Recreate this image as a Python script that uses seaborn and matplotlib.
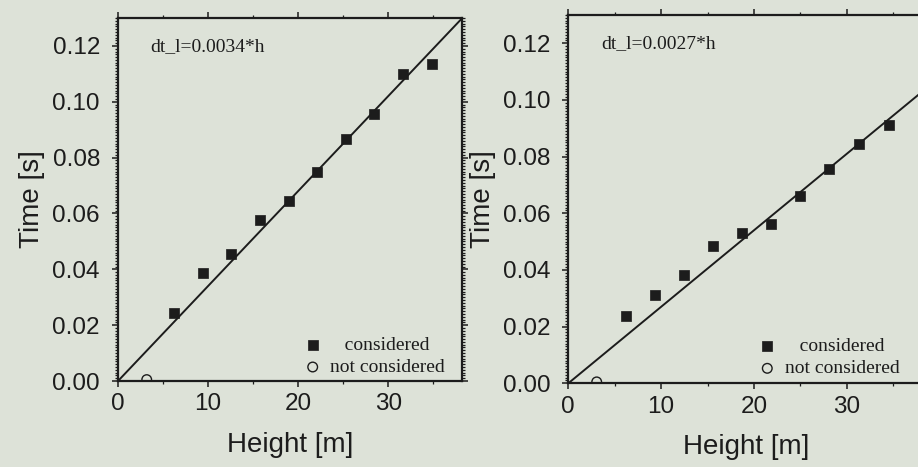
import numpy as np
import pandas as pd
import matplotlib
matplotlib.use("Agg")
import matplotlib.pyplot as plt
from matplotlib.ticker import MultipleLocator, FormatStrFormatter
import seaborn as sns

# ---- data ----
heights_left = [6.24, 9.39, 12.55, 15.74, 18.97, 22.1, 25.35, 28.47, 31.7, 34.9]
times_left = [0.0245, 0.0386, 0.0455, 0.0575, 0.0644, 0.0748, 0.0867, 0.0955, 0.1099, 0.1136]
heights_right = [6.18, 9.31, 12.47, 15.56, 18.72, 21.81, 25.0, 28.13, 31.3, 34.6]
times_right = [0.0239, 0.0310, 0.0382, 0.0483, 0.0532, 0.0564, 0.0662, 0.0756, 0.0845, 0.0912]
excluded_left_h = [3.19]
excluded_left_t = [0.0005]
excluded_right_h = [3.06]
excluded_right_t = [0.0005]
slope_left = 0.0034
slope_right = 0.0027
fit_h = [0.0, 40.0]
x_ticks = [0, 10, 20, 30]
y_ticks = [0.00, 0.02, 0.04, 0.06, 0.08, 0.10, 0.12]
label_left = "dt_l=0.0034*h"
label_right = "dt_l=0.0027*h"

BG = "#dde2d8"
INK = "#1c1c1c"

sns.set_style("ticks")
plt.rcParams["font.family"] = ["Liberation Sans", "DejaVu Sans"]

fig = plt.figure(figsize=(9.18, 4.67), dpi=100, facecolor=BG)

W, H = 918.0, 467.0
ax_l = fig.add_axes([118 / W, (H - 381) / H, 344 / W, 363 / H])
ax_r = fig.add_axes([568.3 / W, (H - 383.3) / H, 355.5 / W, 368.3 / H])


def draw(ax, hs, ts, eh, et, slope, label, xmax, leg_anchor):
    ax.set_facecolor(BG)
    df = pd.DataFrame({"h": hs, "t": ts})
    dfe = pd.DataFrame({"h": eh, "t": et})
    fit = pd.DataFrame({"h": fit_h, "t": [slope * v for v in fit_h]})
    sns.lineplot(data=fit, x="h", y="t", ax=ax, color=INK, lw=1.4, zorder=2)
    sns.scatterplot(data=df, x="h", y="t", ax=ax, marker="s", s=42, color=INK,
                    edgecolor=INK, linewidth=0.5, zorder=3, label="   considered")
    sns.scatterplot(data=dfe, x="h", y="t", ax=ax, marker="o", s=48,
                    facecolor="none", edgecolor=INK, linewidth=1.0, zorder=3,
                    label="not considered")
    ax.set_xlim(0, xmax)
    ax.set_ylim(0, 0.13)
    ax.set_xticks(x_ticks)
    ax.set_yticks(y_ticks)
    ax.yaxis.set_major_formatter(FormatStrFormatter("%.2f"))
    ax.xaxis.set_minor_locator(MultipleLocator(5))
    ax.yaxis.set_minor_locator(MultipleLocator(0.001))
    ax.tick_params(which="major", direction="out", length=4.5, width=1.1,
                   color=INK, labelsize=17.5, labelcolor=INK,
                   top=True, right=True)
    ax.tick_params(which="minor", direction="out", length=2, width=0.9,
                   color=INK, top=True, right=True)
    ax.tick_params(axis="y", which="major", pad=8.5)
    ax.tick_params(axis="x", which="major", pad=4.5)
    for sp in ax.spines.values():
        sp.set_visible(True)
        sp.set_linewidth(1.6)
        sp.set_color(INK)
    ax.set_xlabel("Height [m]", fontsize=20, color=INK, labelpad=12)
    ax.set_ylabel("Time [s]", fontsize=20, color=INK, labelpad=5)
    ax.text(0.093, 0.921, label, transform=ax.transAxes, fontsize=14,
            family=["Liberation Serif", "DejaVu Serif"], color=INK,
            va="center", ha="left")
    leg = ax.legend(loc="lower right", bbox_to_anchor=leg_anchor,
                    frameon=False, handletextpad=0.3, labelspacing=0.25,
                    borderpad=0.2, handlelength=1.2,
                    prop={"family": "Liberation Serif", "size": 14})
    for t in leg.get_texts():
        t.set_color(INK)


draw(ax_l, heights_left, times_left, excluded_left_h, excluded_left_t,
     slope_left, label_left, 38.2, (0.99, -0.024))
draw(ax_r, heights_right, times_right, excluded_right_h, excluded_right_t,
     slope_right, label_right, 38.3, (0.97, -0.021))

fig.savefig("out.png", dpi=100, facecolor=BG)
